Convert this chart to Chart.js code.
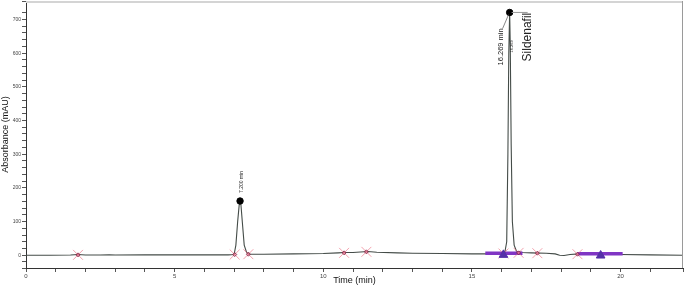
<!DOCTYPE html>
<html><head><meta charset="utf-8">
<script src="https://cdn.jsdelivr.net/npm/chart.js@4.4.1/dist/chart.umd.min.js"></script>
<style>html,body{margin:0;padding:0;background:#fff}#wrap{width:685px;height:286px}</style>
</head><body><div id="wrap"><canvas id="c" width="685" height="286"></canvas></div>
<script>
// Chromatogram trace (time in min, absorbance in mAU)
const times = [0,0.8,1.5,1.75,2.0,2.5,2.8,3.0,4,5,6,6.8,7.0,7.06,7.12,7.17,7.2,7.23,7.28,7.34,7.42,7.5,8,9,10,10.5,10.7,11,11.5,11.8,12.5,13,14,15,15.8,16.1,16.17,16.21,16.24,16.269,16.29,16.32,16.36,16.42,16.5,16.7,17,17.5,17.8,17.95,18.1,18.3,18.6,19,20,21,22.1];
const absorb = [0,0,0.5,2,0.5,0.5,1.5,0.5,1,1,1,1,2,30,100,148,161,150,95,30,8,3,3,4,5,7,8,8,11,9,7,6,5,4,4,5,40,300,600,721,620,330,100,30,12,8,7,6,4,0,-1,2,4,3,2,1,0];
// Integration baselines (purple) : start, end, level
const baseStart = [15.45, 18.55];
const baseEnd = [16.7, 20.07];
const baseLevel = [6, 4];
// Peak-marker triangles
const triX = [16.06, 19.33];
const triY = [1, -1];
// Peak start/end markers (X)
const crossX = [1.75, 7.02, 7.48, 10.7, 11.45, 16.06, 16.57, 17.2, 18.55];
const crossY = [1, 2, 3, 7, 10, 5, 7, 6, 3];
// Peak apexes
const peakX = [7.2, 16.269];
const peakY = [161, 721];
const peakLabels = ['7.200 min', '16.269 min'];
const compoundName = 'Sildenafil';
const xTicksMajor = [0, 5, 10, 15, 20];
const yTicksMajor = [0, 100, 200, 300, 400, 500, 600, 700];

const trace = times.map((t,i)=>({x:t,y:absorb[i]}));
const baseDatasets = baseStart.map((s,i)=>({
  type:'line', data:[{x:s,y:baseLevel[i]},{x:baseEnd[i],y:baseLevel[i]}],
  borderColor:'#8035c4', borderWidth:3.5, pointRadius:0, order:4
}));

const annot = {
  id:'annot',
  afterDatasetsDraw(chart){
    const ctx = chart.ctx, xs = chart.scales.x, ys = chart.scales.y, ca = chart.chartArea;
    ctx.save();
    ctx.strokeStyle = '#d4d4d4'; ctx.lineWidth = 2;
    ctx.beginPath(); ctx.moveTo(ca.left, ca.top+1); ctx.lineTo(ca.right, ca.top+1); ctx.stroke();
    ctx.strokeStyle = '#9a9a9a'; ctx.lineWidth = 1;
    ctx.beginPath(); ctx.moveTo(ca.right-0.5, ca.top); ctx.lineTo(ca.right-0.5, ca.bottom); ctx.stroke();
    let px = xs.getPixelForValue(peakX[0]), py = ys.getPixelForValue(peakY[0]);
    ctx.fillStyle = '#222';
    ctx.save(); ctx.translate(px+2, py-8); ctx.rotate(-Math.PI/2);
    ctx.font = '5px "Liberation Sans", Arial'; ctx.textAlign='left'; ctx.textBaseline='middle';
    ctx.fillText(peakLabels[0], 0, 0); ctx.restore();
    px = xs.getPixelForValue(peakX[1]); py = ys.getPixelForValue(peakY[1]);
    ctx.strokeStyle = '#999'; ctx.lineWidth = 1;
    ctx.beginPath(); ctx.moveTo(px+2, py); ctx.lineTo(px+18, py); ctx.stroke();
    ctx.strokeStyle = '#555'; ctx.lineWidth = 0.7;
    ctx.beginPath(); ctx.moveTo(px-1, py+2); ctx.lineTo(px-7, py+16); ctx.stroke();
    ctx.save(); ctx.translate(px-9, py+53); ctx.rotate(-Math.PI/2);
    ctx.font = '7.5px "Liberation Sans", Arial'; ctx.textAlign='left'; ctx.textBaseline='middle';
    ctx.fillText(peakLabels[1], 0, 0); ctx.restore();
    ctx.save(); ctx.translate(px+2, py+40); ctx.rotate(-Math.PI/2);
    ctx.font = '4px "Liberation Sans", Arial'; ctx.textAlign='left'; ctx.textBaseline='middle';
    ctx.fillText(peakX[1].toFixed(3), 0, 0); ctx.restore();
    ctx.save(); ctx.translate(px+18, py+49); ctx.rotate(-Math.PI/2);
    ctx.font = '12px "Liberation Sans", Arial'; ctx.textAlign='left'; ctx.textBaseline='middle';
    ctx.fillText(compoundName, 0, 0); ctx.restore();
    ctx.restore();
  }
};

new Chart(document.getElementById('c'), {
  type:'scatter',
  data:{datasets:[
    {type:'line', data:trace, borderColor:'#444c48', borderWidth:1.1, pointRadius:0, tension:0, order:5},
    ...baseDatasets,
    {data:crossX.map((x,i)=>({x,y:crossY[i]})), pointStyle:'crossRot', pointRadius:7, borderColor:'rgba(235,100,120,0.6)', borderWidth:1, order:3},
    {data:crossX.map((x,i)=>({x,y:crossY[i]})), pointStyle:'rectRot', pointRadius:2, borderColor:'#7a2040', backgroundColor:'rgba(240,120,150,0.6)', borderWidth:0.8, order:2},
    {data:triX.map((x,i)=>({x,y:triY[i]})), pointStyle:'triangle', pointRadius:5, backgroundColor:'#5530a8', borderColor:'#5530a8', order:1},
    {data:peakX.map((x,i)=>({x,y:peakY[i]})), pointStyle:'circle', pointRadius:3.2, backgroundColor:'#000', borderColor:'#000', order:0}
  ]},
  options:{
    responsive:false, animation:false, devicePixelRatio:1,
    layout:{autoPadding:false, padding:{left:0,right:2,top:1,bottom:0}},
    plugins:{legend:{display:false}, tooltip:{enabled:false}},
    scales:{
      x:{type:'linear', min:0, max:22.1,
        grid:{display:true, drawOnChartArea:false, drawTicks:true, tickLength:4, color:'#555'},
        border:{color:'#333', width:1},
        ticks:{stepSize:1, autoSkip:false, maxRotation:0, padding:1, color:'#444', font:{size:6, family:'"Liberation Sans", Arial'},
          callback:v=> xTicksMajor.includes(v) ? String(v) : ''},
        title:{display:true, text:'Time (min)', color:'#111', font:{size:9, family:'"Liberation Sans", Arial'}, padding:{top:0,bottom:0}},
        afterFit(s){ s.height = 18; s.paddingLeft = 0; s.paddingRight = 0; }
      },
      y:{type:'linear', min:-38, max:755,
        grid:{display:true, drawOnChartArea:false, drawTicks:true, tickLength:4, color:'#555'},
        border:{color:'#333', width:1},
        ticks:{stepSize:20, autoSkip:false, padding:1, color:'#444', font:{size:5, family:'"Liberation Sans", Arial'},
          callback:v=> yTicksMajor.includes(v) ? String(v) : ''},
        title:{display:true, text:'Absorbance (mAU)', color:'#111', font:{size:9, family:'"Liberation Sans", Arial'}, padding:{top:0,bottom:0}},
        afterFit(s){ s.width = 26; s.paddingTop = 0; s.paddingBottom = 0; }
      }
    }
  },
  plugins:[annot]
});
</script></body></html>
